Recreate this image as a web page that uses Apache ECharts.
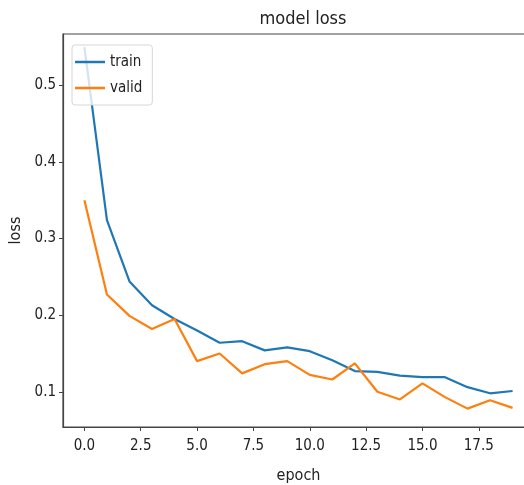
<!DOCTYPE html>
<html>
<head>
<meta charset="utf-8">
<script src="https://cdn.jsdelivr.net/npm/echarts@6/dist/echarts.min.js"></script>
<style>
  html, body { margin: 0; padding: 0; background: #fff; }
  #chart { width: 524px; height: 485px; }
</style>
</head>
<body>
<div id="chart"></div>
<script>
const epochs = [0, 1, 2, 3, 4, 5, 6, 7, 8, 9, 10, 11, 12, 13, 14, 15, 16, 17, 18, 19]
const trainLoss = [0.550, 0.324, 0.244, 0.213, 0.195, 0.180, 0.164, 0.166, 0.154, 0.158,
  0.153, 0.141, 0.127, 0.126, 0.121, 0.119, 0.119, 0.106, 0.098, 0.101]
const validLoss = [0.350, 0.227, 0.199, 0.182, 0.195, 0.140, 0.150, 0.124, 0.136, 0.140,
  0.122, 0.116, 0.137, 0.100, 0.090, 0.111, 0.093, 0.078, 0.089, 0.079]
const xTicks = [0, 2.5, 5, 7.5, 10, 12.5, 15, 17.5]
const yTicks = [0.1, 0.2, 0.3, 0.4, 0.5]

const FONT = "'DejaVu Sans Condensed', 'DejaVu Sans', sans-serif"
const AXIS_COLOR = '#444'

const chart = echarts.init(document.getElementById('chart'))

function pairs(ys) {
  return epochs.map((x, i) => [x, ys[i]])
}

chart.setOption({
  animation: false,
  title: {
    text: 'model loss',
    left: 298,
    top: 5,
    textAlign: 'center',
    textStyle: { fontFamily: FONT, fontSize: 18, fontWeight: 'normal', color: '#222' },
  },
  legend: {
    orient: 'vertical',
    left: 72,
    top: 45,
    padding: [9, 10, 9, 3],
    itemGap: 10,
    itemWidth: 30,
    itemHeight: 2.5,
    icon: 'rect',
    backgroundColor: 'rgba(255,255,255,0.8)',
    borderColor: '#d6d6d6',
    borderWidth: 1,
    borderRadius: 3,
    textStyle: { fontFamily: FONT, fontSize: 15, color: '#222', lineHeight: 16 },
    data: ['train', 'valid'],
  },
  grid: {
    left: 63,
    top: 34,
    right: -10,
    bottom: 58,
    show: true,
    borderColor: AXIS_COLOR,
    borderWidth: 1.2,
    outerBoundsMode: 'none',
  },
  xAxis: {
    type: 'value',
    min: -0.95,
    max: 19.95,
    name: 'epoch',
    nameLocation: 'middle',
    nameGap: 41,
    nameTextStyle: { fontFamily: FONT, fontSize: 16, color: '#222' },
    axisLine: { show: true, onZero: false, lineStyle: { color: AXIS_COLOR, width: 1.2 } },
    axisTick: { show: true, length: 4, customValues: xTicks, lineStyle: { color: AXIS_COLOR } },
    axisLabel: {
      customValues: xTicks,
      margin: 12,
      fontFamily: FONT,
      fontSize: 15,
      color: '#222',
      formatter: (v) => v.toFixed(1),
    },
    splitLine: { show: false },
  },
  yAxis: {
    type: 'value',
    min: 0.054,
    max: 0.567,
    name: 'loss',
    nameLocation: 'middle',
    nameGap: 38,
    nameTextStyle: { fontFamily: FONT, fontSize: 16, color: '#222' },
    axisLine: { show: true, onZero: false, lineStyle: { color: AXIS_COLOR, width: 1.2 } },
    axisTick: { show: true, length: 4, customValues: yTicks, lineStyle: { color: AXIS_COLOR } },
    axisLabel: {
      customValues: yTicks,
      margin: 7,
      fontFamily: FONT,
      fontSize: 15,
      color: '#222',
      formatter: (v) => v.toFixed(1),
    },
    splitLine: { show: false },
  },
  series: [
    {
      name: 'train',
      type: 'line',
      data: pairs(trainLoss),
      showSymbol: false,
      itemStyle: { color: '#1f77b4' },
      lineStyle: { color: '#1f77b4', width: 2.2 },
      z: 2,
    },
    {
      name: 'valid',
      type: 'line',
      data: pairs(validLoss),
      showSymbol: false,
      itemStyle: { color: '#ff7f0e' },
      lineStyle: { color: '#ff7f0e', width: 2.2 },
      z: 3,
    },
  ],
})
</script>
</body>
</html>
